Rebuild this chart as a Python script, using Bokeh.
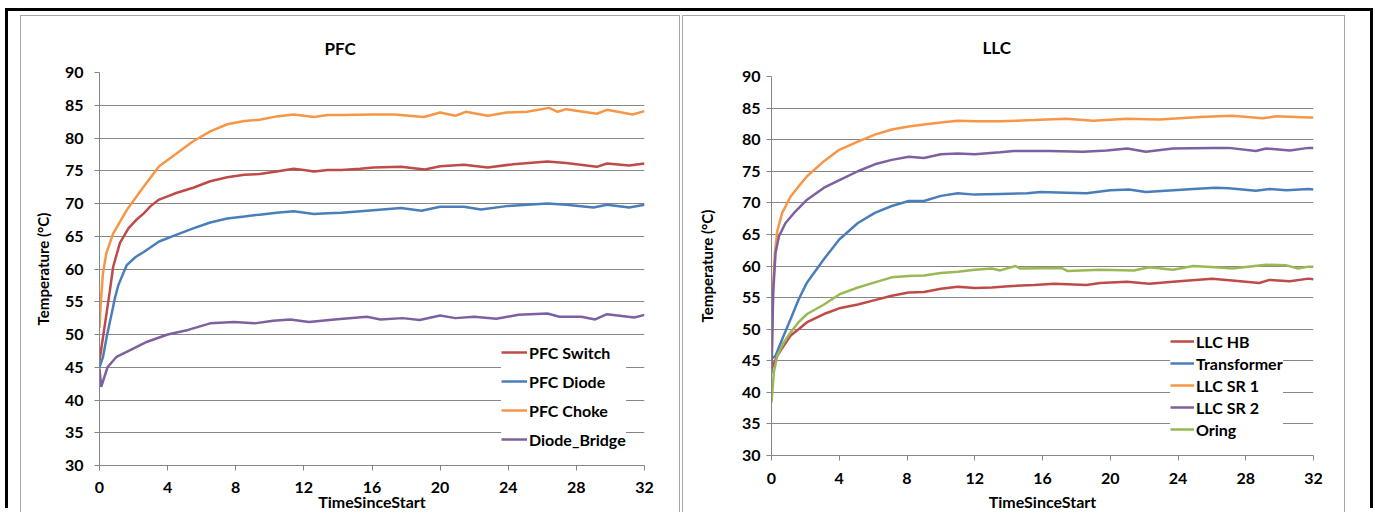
from bokeh.plotting import figure
from bokeh.models import Range1d, SingleIntervalTicker, Legend, LegendItem, Div
from bokeh.embed import file_html
from bokeh.resources import INLINE

# ---------------- PFC data (time in hours, temperature in °C) ----------------
pfc_switch_t = [0, 0.2, 0.4, 0.6, 0.8, 1.2, 1.7, 2.2, 2.6, 3.0, 3.5, 4.0, 4.5, 5.5, 6.5, 7.5, 8.5, 9.4,
                10.4, 11.4, 12.0, 12.6, 13.4, 14.2, 15.3, 16.1, 17.7, 19.1, 20.0, 21.4, 22.8, 24.3,
                26.3, 27.4, 29.2, 29.8, 31.1, 32.0]
pfc_switch_v = [46.0, 49.5, 53.0, 56.5, 60.3, 64.0, 66.2, 67.6, 68.5, 69.6, 70.6, 71.1, 71.6, 72.4, 73.4,
                74.0, 74.4, 74.5, 74.9, 75.3, 75.1, 74.9, 75.1, 75.1, 75.3, 75.5, 75.6, 75.2, 75.7, 75.9,
                75.5, 76.0, 76.4, 76.2, 75.6, 76.1, 75.8, 76.1]

pfc_diode_t = [0, 0.2, 0.45, 0.7, 0.9, 1.1, 1.6, 2.1, 2.6, 3.5, 4.5, 5.5, 6.5, 7.5, 8.5, 9.4, 10.4, 11.4,
               12.6, 13.4, 14.2, 15.7, 17.7, 18.9, 20.0, 21.4, 22.4, 23.9, 26.3, 27.4, 29.0, 29.8, 31.1, 32.0]
pfc_diode_v = [45.0, 46.5, 50.0, 53.0, 55.5, 57.5, 60.6, 61.8, 62.6, 64.2, 65.2, 66.2, 67.1, 67.7, 68.0,
               68.3, 68.6, 68.8, 68.4, 68.5, 68.6, 68.9, 69.3, 68.9, 69.5, 69.5, 69.1, 69.6, 70.0, 69.8,
               69.4, 69.8, 69.4, 69.8]

pfc_choke_t = [0, 0.06, 0.2, 0.4, 0.8, 1.6, 2.6, 3.5, 4.3, 5.5, 6.5, 7.5, 8.5, 9.4, 10.4, 11.4, 12.6, 13.4,
               14.2, 16.1, 17.3, 19.05, 20.0, 20.9, 21.5, 22.8, 23.9, 25.1, 26.4, 26.9, 27.4, 29.2, 29.8,
               31.3, 32.0]
pfc_choke_v = [51.0, 54.2, 59.3, 62.4, 65.4, 69.0, 72.6, 75.7, 77.2, 79.5, 81.0, 82.1, 82.6, 82.8, 83.3,
               83.6, 83.2, 83.5, 83.5, 83.6, 83.6, 83.2, 83.9, 83.4, 84.0, 83.4, 83.9, 84.0, 84.6, 84.0,
               84.4, 83.7, 84.3, 83.6, 84.1]

diode_bridge_t = [0, 0.1, 0.47, 1.0, 1.8, 2.8, 4.0, 5.2, 6.5, 7.9, 9.1, 10.2, 11.2, 12.3, 13.8, 15.7, 16.5,
                  17.8, 18.8, 20.0, 20.9, 22.0, 23.3, 24.6, 26.3, 27.0, 28.3, 29.1, 29.8, 31.4, 32.0]
diode_bridge_v = [44.8, 42.0, 45.0, 46.6, 47.6, 48.9, 50.0, 50.7, 51.7, 51.9, 51.7, 52.1, 52.3, 51.9, 52.3,
                  52.7, 52.3, 52.5, 52.2, 52.9, 52.5, 52.7, 52.4, 53.0, 53.2, 52.7, 52.7, 52.3, 53.1, 52.6,
                  53.0]

# ---------------- LLC data ----------------
llc_hb_t = [0, 0.34, 0.73, 1.13, 1.6, 2.1, 3.1, 4.0, 5.1, 6.1, 7.1, 8.1, 9.0, 10.0, 11.0, 12.0, 13.0, 14.0,
            15.5, 16.7, 18.6, 19.4, 21.0, 22.3, 23.7, 26.0, 27.2, 28.8, 29.4, 30.6, 31.7, 32.0]
llc_hb_v = [43.7, 45.8, 47.4, 49.0, 50.0, 51.1, 52.4, 53.3, 53.9, 54.6, 55.3, 55.8, 55.9, 56.4, 56.7, 56.5,
            56.6, 56.8, 57.0, 57.2, 57.0, 57.3, 57.5, 57.2, 57.5, 58.0, 57.7, 57.3, 57.8, 57.6, 58.0, 57.9]

transformer_t = [0, 0.24, 0.63, 1.13, 1.6, 2.1, 3.1, 4.0, 5.1, 6.1, 7.1, 8.1, 9.0, 10.0, 11.0, 12.0, 13.5,
                 15.1, 15.9, 17.4, 18.6, 20.0, 21.1, 22.1, 24.9, 26.2, 27.0, 28.6, 29.4, 30.4, 31.7, 32.0]
transformer_v = [45.3, 45.8, 48.4, 51.6, 54.7, 57.4, 61.1, 64.2, 66.8, 68.4, 69.5, 70.3, 70.3, 71.1, 71.5,
                 71.3, 71.4, 71.5, 71.7, 71.6, 71.5, 72.0, 72.1, 71.7, 72.2, 72.4, 72.3, 71.9, 72.2, 72.0,
                 72.2, 72.1]

llc_sr1_t = [0, 0.1, 0.2, 0.34, 0.63, 1.13, 1.6, 2.1, 3.1, 4.0, 5.1, 6.1, 7.1, 8.1, 9.0, 10.0, 11.0, 12.0,
             13.5, 15.5, 17.4, 19.0, 21.0, 22.9, 25.3, 27.2, 29.0, 29.8, 31.7, 32.0]
llc_sr1_v = [44.0, 57.0, 62.0, 65.5, 68.4, 71.0, 72.6, 74.2, 76.6, 78.4, 79.7, 80.8, 81.6, 82.1, 82.4, 82.7,
             83.0, 82.9, 82.9, 83.1, 83.3, 83.0, 83.3, 83.2, 83.6, 83.8, 83.4, 83.7, 83.5, 83.5]

llc_sr2_t = [0, 0.1, 0.24, 0.44, 0.83, 1.33, 2.1, 3.1, 4.1, 5.1, 6.1, 7.1, 8.1, 9.0, 10.0, 11.0, 12.0, 13.5,
             14.3, 16.4, 18.4, 19.8, 21.0, 22.1, 23.7, 26.0, 27.0, 28.6, 29.2, 30.6, 31.7, 32.0]
llc_sr2_v = [43.0, 55.8, 62.1, 64.7, 66.8, 68.4, 70.5, 72.4, 73.7, 75.0, 76.1, 76.8, 77.3, 77.1, 77.7, 77.8,
             77.7, 78.0, 78.2, 78.2, 78.1, 78.3, 78.6, 78.1, 78.6, 78.7, 78.7, 78.2, 78.6, 78.3, 78.7, 78.7]

oring_t = [0, 0.14, 0.34, 0.73, 1.13, 1.6, 2.1, 3.1, 4.0, 5.1, 6.1, 7.1, 8.1, 9.0, 10.0, 11.0, 12.0, 13.0,
           13.5, 14.4, 14.7, 17.1, 17.5, 19.4, 21.4, 22.3, 23.7, 24.9, 26.2, 27.2, 29.2, 30.4, 31.1, 31.7, 32.0]
oring_v = [38.4, 43.2, 45.8, 47.9, 49.5, 51.1, 52.4, 53.9, 55.5, 56.6, 57.4, 58.2, 58.4, 58.5, 58.9, 59.1,
           59.4, 59.6, 59.3, 60.0, 59.6, 59.7, 59.2, 59.4, 59.3, 59.8, 59.4, 60.0, 59.8, 59.6, 60.2, 60.1,
           59.6, 59.9, 59.9]

pfc_names = ["PFC Switch", "PFC Diode", "PFC Choke", "Diode_Bridge"]
llc_names = ["LLC HB", "Transformer", "LLC SR 1", "LLC SR 2", "Oring"]

RED, BLUE, ORANGE, PURPLE, GREEN = "#BE4B48", "#4A7EBB", "#F79646", "#7D60A0", "#98B954"
GRID = "#868686"
FONT = "Lato"


def make_panel(title, series, width, left, mb, cfg, legend_cfg):
    p = figure(width=width, height=497, x_range=Range1d(0, 32), y_range=Range1d(30, 90),
               output_backend="svg", toolbar_location=None,
               min_border_left=mb[0], min_border_right=mb[1], min_border_top=mb[2],
               min_border_bottom=mb[3])
    p.outline_line_color = None
    p.background_fill_color = "white"
    p.border_fill_color = "white"
    p.margin = 0
    p.styles = {"position": "absolute", "left": f"{left}px", "top": "15px",
                "border": "1px solid #a6a6a6", "border-bottom": "none"}

    p.title.text = title
    p.title.align = "left"
    p.title.vertical_align = "top"
    p.title.text_font = FONT
    p.title.text_font_style = "bold"
    p.title.text_font_size = "17px"
    p.title.text_color = "black"
    p.title.offset = cfg["title_offset"]
    p.title.standoff = cfg["title_standoff"]

    p.xaxis.ticker = SingleIntervalTicker(interval=4, num_minor_ticks=0)
    p.yaxis.ticker = SingleIntervalTicker(interval=5, num_minor_ticks=0)
    for ax in (p.xaxis[0], p.yaxis[0]):
        ax.axis_line_color = GRID
        ax.major_tick_line_color = GRID
        ax.major_tick_out = 5
        ax.major_tick_in = 0
        ax.minor_tick_line_color = None
        ax.major_label_text_font = FONT
        ax.major_label_text_font_style = "bold"
        ax.major_label_text_font_size = "16px"
        ax.major_label_text_color = "black"
        ax.axis_label_text_font = FONT
        ax.axis_label_text_font_style = "bold"
        ax.axis_label_text_color = "black"
    p.xaxis.axis_label = "TimeSinceStart"
    p.xaxis.axis_label_text_font_size = "16px"
    p.yaxis.axis_label = "Temperature (°C)"
    p.yaxis.axis_label_text_font_size = "15px"
    p.xaxis.major_label_standoff = cfg["x_std"]
    p.xaxis.axis_label_standoff = cfg["x_lab_std"]
    p.yaxis.major_label_standoff = cfg["y_std"]
    p.yaxis.axis_label_standoff = cfg["y_lab_std"]

    p.xgrid.visible = False
    p.ygrid.grid_line_color = GRID
    p.ygrid.grid_line_width = 1

    items = []
    for name, (t, v, c) in series:
        r = p.line(t, v, line_color=c, line_width=2.5)
        items.append(LegendItem(label=name, renderers=[r]))
    leg = Legend(items=items, location=legend_cfg["loc"])
    leg.label_text_font = FONT
    leg.label_text_font_style = "bold"
    leg.label_text_font_size = "16px"
    leg.label_text_color = "black"
    leg.glyph_width = legend_cfg["glyph_w"]
    leg.glyph_height = 20
    leg.label_height = 20
    leg.label_standoff = 2
    leg.spacing = legend_cfg["spacing"]
    leg.padding = 4
    leg.margin = 0
    leg.border_line_color = None
    leg.background_fill_color = "white"
    leg.background_fill_alpha = 1.0
    p.add_layout(leg, "center")
    return p


pfc_series = list(zip(pfc_names, [
    (pfc_switch_t, pfc_switch_v, RED),
    (pfc_diode_t, pfc_diode_v, BLUE),
    (pfc_choke_t, pfc_choke_v, ORANGE),
    (diode_bridge_t, diode_bridge_v, PURPLE),
]))
llc_series = list(zip(llc_names, [
    (llc_hb_t, llc_hb_v, RED),
    (transformer_t, transformer_v, BLUE),
    (llc_sr1_t, llc_sr1_v, ORANGE),
    (llc_sr2_t, llc_sr2_v, PURPLE),
    (oring_t, oring_v, GREEN),
]))

p1 = make_panel("PFC", pfc_series, 660, 20, (78, 37, 56, 48),
                dict(title_offset=225, title_standoff=23, x_std=11, x_lab_std=-4, y_std=11, y_lab_std=10),
                dict(loc=(402, 16), glyph_w=26, spacing=9))
p2 = make_panel("LLC", llc_series, 663, 682, (88, 33, 60, 57),
                dict(title_offset=211, title_standoff=33, x_std=12, x_lab_std=5, y_std=6, y_lab_std=23),
                dict(loc=(399, 16), glyph_w=24, spacing=2))

frame_box = Div(text="", width=1368, height=500, margin=0,
                styles={"position": "absolute", "left": "5px", "top": "8px",
                        "border": "3px solid #000000", "border-bottom": "none"})

open("out.html", "w").write(file_html([frame_box, p1, p2], INLINE))
